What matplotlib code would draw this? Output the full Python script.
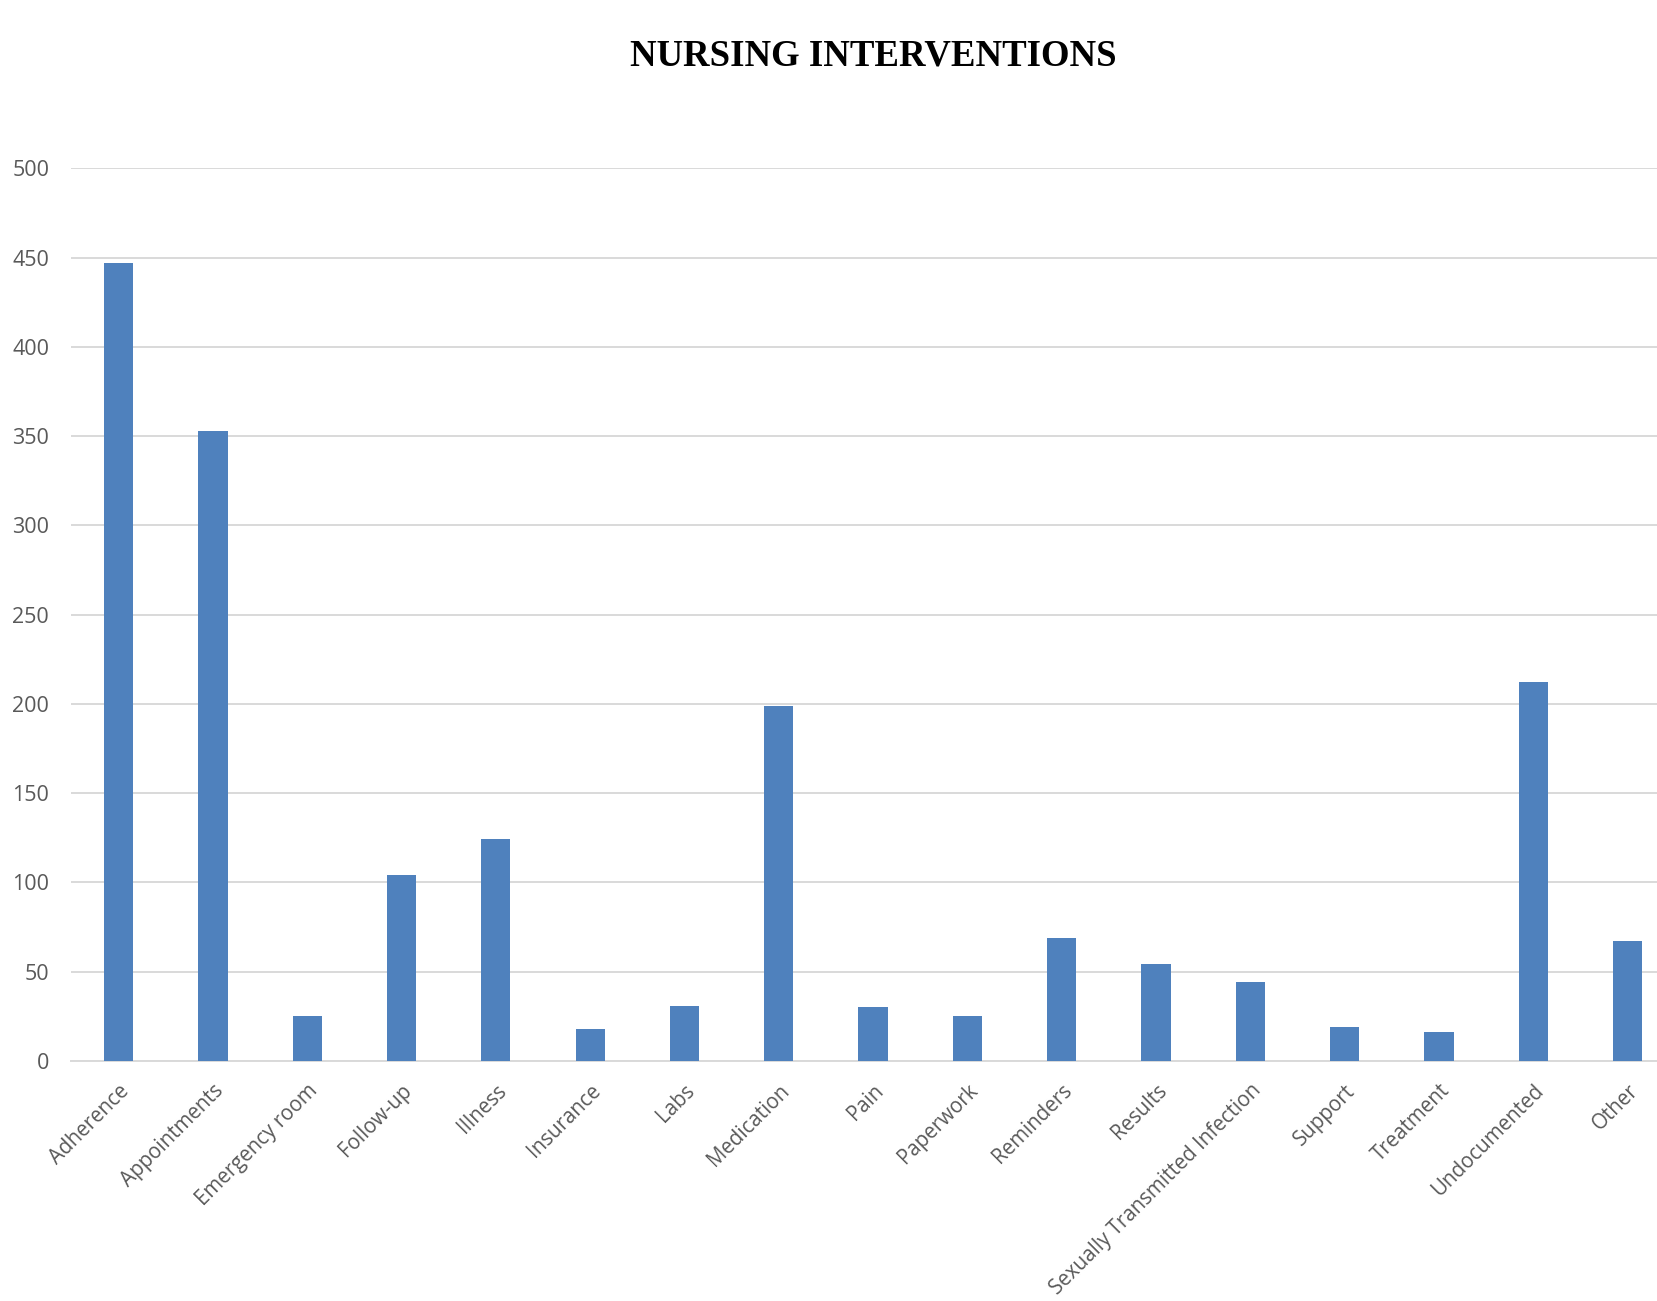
import matplotlib.pyplot as plt
import numpy as np

categories = ['Adherence', 'Appointments', 'Emergency room', 'Follow-up', 'Illness',
              'Insurance', 'Labs', 'Medication', 'Pain', 'Paperwork', 'Reminders',
              'Results', 'Sexually Transmitted Infection', 'Support', 'Treatment',
              'Undocumented', 'Other']
counts = [447, 353, 25, 104, 124, 18, 31, 199, 30, 25, 69, 54, 44, 19, 16, 212, 67]
yticks = [0, 50, 100, 150, 200, 250, 300, 350, 400, 450, 500]

fig = plt.figure(figsize=(16.58, 13.01), dpi=100)
# plot area runs a bit past the right edge, like the original crop
ax = fig.add_axes([0.0431, 0.1846, 0.967, 0.686])

x = np.arange(len(categories))
ax.bar(x, counts, width=0.31, color='#4F81BD', zorder=3)

ax.set_xlim(-0.5, len(categories) - 0.5)
ax.set_ylim(0, 500)
ax.set_yticks(yticks)
ax.set_yticklabels([str(v) for v in yticks], fontsize=15.5, color='#595959', family='Open Sans')
ax.set_xticks(x)
ax.set_xticklabels(categories, rotation=45, ha='right', rotation_mode='anchor',
                   fontsize=14.8, color='#595959', family='Open Sans')
ax.tick_params(axis='both', length=0)
ax.tick_params(axis='x', pad=14)
ax.tick_params(axis='y', pad=16)

ax.grid(axis='y', color='#D9D9D9', linewidth=1.4, zorder=0)
ax.set_axisbelow(True)
for s in ax.spines.values():
    s.set_visible(False)
ax.axhline(0, color='#D9D9D9', linewidth=1.4, zorder=1, clip_on=False)

# title centred over the plot area
pos = ax.get_position()
fig.text(pos.x0 + pos.width / 2, 0.957, 'NURSING INTERVENTIONS', fontsize=26.5,
         fontweight='bold', family='Liberation Serif', ha='center', va='center')

fig.savefig('out.png', dpi=100)
